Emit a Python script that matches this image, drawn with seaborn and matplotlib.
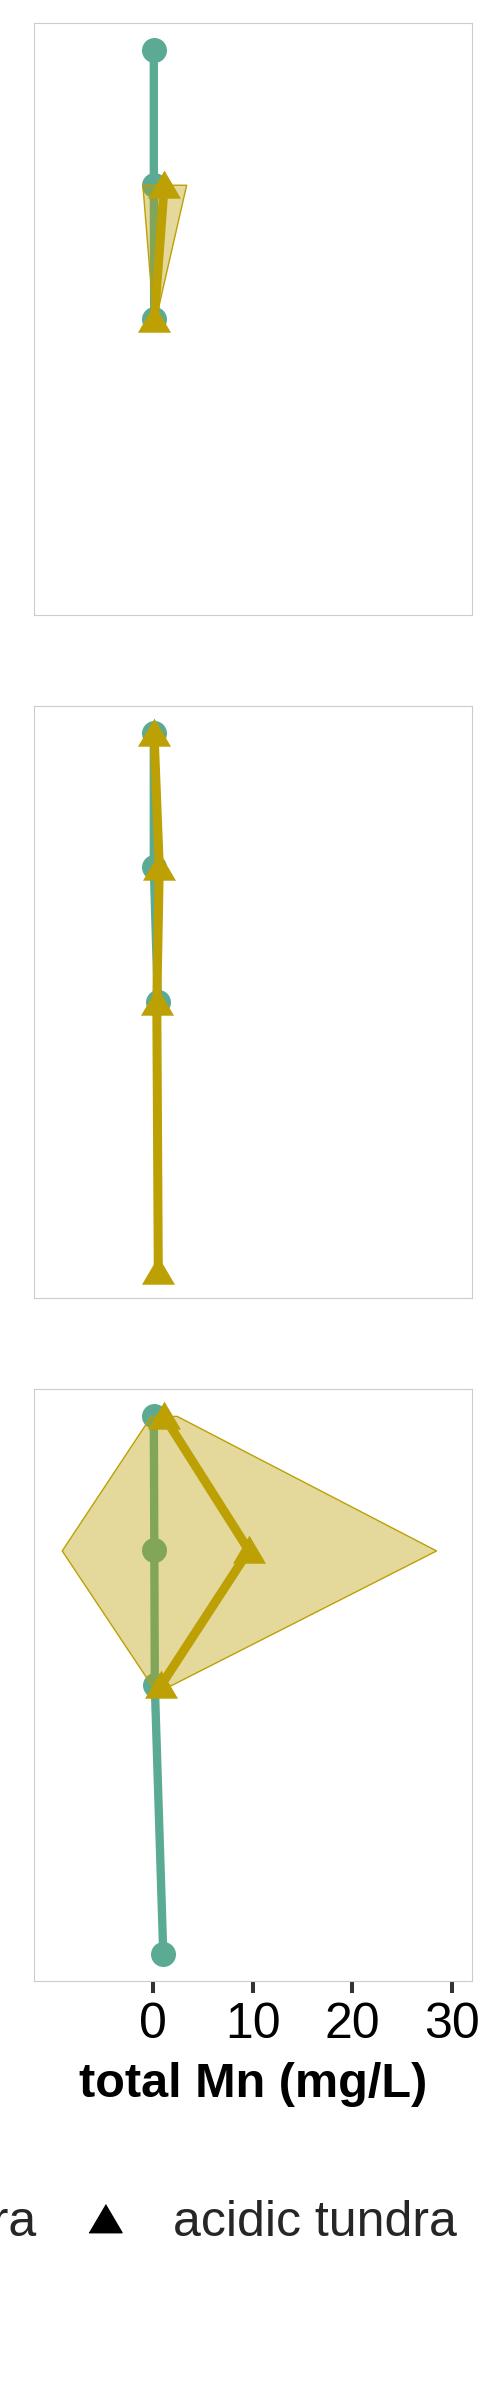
import numpy as np
import pandas as pd
import matplotlib
matplotlib.use("Agg")
import matplotlib.pyplot as plt
import seaborn as sns
from matplotlib.colors import to_rgba
from matplotlib.lines import Line2D

# vegetation groups and colours
veg_levels = ["non-acidic tundra", "acidic tundra"]
veg_colors = {"non-acidic tundra": "#5BAA93", "acidic tundra": "#BCA004"}
panels = ["panel 1", "panel 2", "panel 3"]
x_ticks = [0, 10, 20, 30]

# panel 1 (top)
p1_non_depth = [10, 20, 30]
p1_non_mn = [0.05, 0.05, 0.09]
p1_non_sd = [0.03, 0.05, 0.05]
p1_acid_depth = [20, 30]
p1_acid_mn = [1.1, 0.1]
p1_acid_sd = [2.2, 0.1]

# panel 2 (middle)
p2_non_depth = [10, 20, 30]
p2_non_mn = [0.05, 0.05, 0.45]
p2_non_sd = [0.05, 0.05, 0.1]
p2_acid_depth = [10, 20, 30, 50]
p2_acid_mn = [0.07, 0.6, 0.35, 0.5]
p2_acid_sd = [0.05, 0.1, 0.1, 0.05]

# panel 3 (bottom)
p3_non_depth = [10, 20, 30, 50]
p3_non_mn = [0.05, 0.1, 0.15, 1.0]
p3_non_sd = [0.05, 0.05, 0.05, 0.05]
p3_acid_depth = [10, 20, 30]
p3_acid_mn = [1.05, 9.6, 0.8]
p3_acid_sd = [1.3, 18.8, 1.0]


def make_frame(panel, veg, depth, mn, sd):
    return pd.DataFrame({"panel": panel, "vegetation": veg,
                         "depth": depth, "mn": mn, "sd": sd})


data = pd.concat([
    make_frame("panel 1", "non-acidic tundra", p1_non_depth, p1_non_mn, p1_non_sd),
    make_frame("panel 1", "acidic tundra", p1_acid_depth, p1_acid_mn, p1_acid_sd),
    make_frame("panel 2", "non-acidic tundra", p2_non_depth, p2_non_mn, p2_non_sd),
    make_frame("panel 2", "acidic tundra", p2_acid_depth, p2_acid_mn, p2_acid_sd),
    make_frame("panel 3", "non-acidic tundra", p3_non_depth, p3_non_mn, p3_non_sd),
    make_frame("panel 3", "acidic tundra", p3_acid_depth, p3_acid_mn, p3_acid_sd),
], ignore_index=True)

sns.set_theme(style="white")
plt.rcParams['font.family'] = ['Liberation Sans', 'DejaVu Sans']

tri = [(-1, -0.8), (1, -0.8), (0, 0.9)]
veg_markers = {"non-acidic tundra": ("o", 18, 6), "acidic tundra": (tri, 23.8, 6.5)}

fig = plt.figure(figsize=(4.95, 24), dpi=100)
left, width = 34.33 / 495, 437.3 / 495
tops = [23.3, 706, 1389]
height = 592 / 2400

for i, panel in enumerate(panels):
    ax = fig.add_axes([left, 1 - (tops[i] + 592) / 2400, width, height])
    sub = data[data["panel"] == panel]
    # each group drawn fully (band, then line + points) so later groups sit on top
    for j, veg in enumerate(veg_levels):
        d = sub[sub["vegetation"] == veg].sort_values("depth")
        col = veg_colors[veg]
        ax.fill_betweenx(d["depth"], d["mn"] - d["sd"], d["mn"] + d["sd"],
                         facecolor=to_rgba(col, 0.4), edgecolor=col, linewidth=1,
                         zorder=2 * j + 1)
        m, ms, lw = veg_markers[veg]
        sns.lineplot(data=d, x="mn", y="depth", orient="y", errorbar=None,
                     color=col, linewidth=lw, marker=m, markersize=ms,
                     markeredgewidth=0, ax=ax, legend=False, zorder=2 * j + 2)
    ax.set_xlim(-11.95, 31.97)
    ax.set_ylim(52, 8)
    ax.set_yticks([])
    ax.set_ylabel("")
    for s in ax.spines.values():
        s.set_color("#CCCCCC")
        s.set_linewidth(0.8)
    if i < 2:
        ax.set_xticks([])
        ax.set_xlabel("")
    else:
        ax.set_xticks(x_ticks)
        ax.tick_params(axis="x", bottom=True, length=8.4, width=2.9,
                       color="#333333", pad=6.5, labelsize=36, labelcolor="black")
        ax.set_xlabel("total Mn (mg/L)", fontsize=35, fontweight="bold",
                      labelpad=10, color="black")

handles = [Line2D([0], [0], marker="o", color="black", linestyle="None", markersize=18),
           Line2D([0], [0], marker=tri, color="black", linestyle="None", markersize=23.8)]
fig.legend(handles, veg_levels, loc="center right", ncol=2, frameon=False,
           bbox_to_anchor=(456.5 / 495, 1 - 2223.5 / 2400), fontsize=36,
           borderpad=0, borderaxespad=0, handlelength=1.0, handletextpad=0.86,
           columnspacing=0.86)

fig.savefig("out.png", dpi=100)
